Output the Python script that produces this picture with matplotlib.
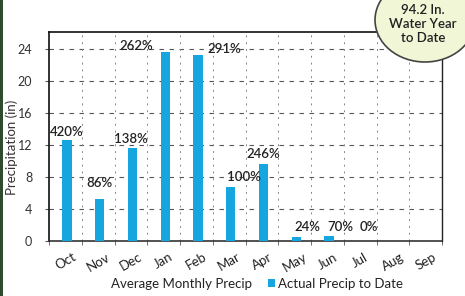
import matplotlib
matplotlib.use("Agg")
import matplotlib.pyplot as plt
from matplotlib.patches import Ellipse, Rectangle, Patch
import numpy as np

months = ["Oct", "Nov", "Dec", "Jan", "Feb", "Mar", "Apr", "May", "Jun", "Jul", "Aug", "Sep"]
actual = [12.6, 5.3, 11.6, 23.6, 23.2, 6.8, 9.6, 0.45, 0.6, 0.0, None, None]
pct_labels = ["420%", "86%", "138%", "262%", "291%", "100%", "246%", "24%", "70%", "0%", None, None]
yticks = [0, 4, 8, 12, 16, 20, 24]
bubble_text = "94.2 In.\nWater Year\nto Date"

# label offsets in pixels (dx, dy) relative to bar top centre
label_offsets = [(0, 2), (0, 10), (-2, 3), (-29, 0), (26, 0), (13, 4), (0, 4), (11, 4), (11, 3), (7, 8)]

plt.rcParams['font.family'] = ['Lato', 'DejaVu Sans']

W, H = 465, 296
fig = plt.figure(figsize=(W / 100, H / 100), dpi=100)
fig.patch.set_facecolor("white")

ax = fig.add_axes([49 / W, 1 - 241 / H, (442 - 49) / W, (241 - 32) / H])
x = np.arange(len(months))
vals = [v if v is not None else 0 for v in actual]
bar_color = "#16a6df"
ax.bar(x + 0.05, vals, width=0.28, color=bar_color, zorder=3)

ax.set_xlim(-0.5, 11.5)
ax.set_ylim(0, 26.1)
ax.set_yticks(yticks)
ax.set_yticklabels([str(t) for t in yticks], fontsize=9, color="#333333")
ax.set_xticks(x)
ax.set_xticklabels(months, rotation=30, fontsize=9.5, color="#222222", ha="center")
ax.tick_params(axis="x", length=0, pad=7)
ax.set_xticks(np.arange(-0.5, 12, 1), minor=True)
ax.tick_params(axis="x", which="minor", length=3, color="#555555")
ax.tick_params(axis="y", length=3, color="#555555", pad=9)

for yv in yticks[1:]:
    ax.axhline(yv, color="#555555", lw=0.8, ls=(0, (4, 5)), zorder=1)
for xv in np.arange(0.5, 11, 1):
    ax.axvline(xv, color="#888888", lw=0.7, ls=(0, (2, 5)), zorder=1)

for sp in ["left", "top"]:
    ax.spines[sp].set_color("#111111")
    ax.spines[sp].set_linewidth(1.2)
ax.spines["bottom"].set_color("#333333")
ax.spines["bottom"].set_linewidth(1.2)
ax.spines["right"].set_color("#222222")
ax.spines["right"].set_linewidth(1.0)

ax.set_ylabel("Precipitation (in)", fontsize=9.5, color="#333333")
ax.yaxis.set_label_coords(-0.079, 0.45)

for i, lab in enumerate(pct_labels):
    if lab is None:
        continue
    dx, dy = label_offsets[i]
    ax.annotate(lab, (x[i] + 0.05, vals[i]), xytext=(dx, dy), textcoords="offset pixels",
                ha="center", va="bottom", fontsize=9.5, fontweight="semibold",
                color="#222222", zorder=5)

handles = [Patch(facecolor="none", edgecolor="none"), Patch(facecolor=bar_color, edgecolor="none")]
fig.legend(handles, ["Average Monthly Precip", "Actual Precip to Date"], loc="center",
           bbox_to_anchor=(252 / W, 1 - 284 / H), ncol=2, frameon=False, fontsize=9.5,
           handlelength=0.55, handleheight=0.55, handletextpad=0.2, columnspacing=1.2,
           labelcolor="#222222")

# overlay in pixel coordinates
ov = fig.add_axes([0, 0, 1, 1], zorder=10)
ov.set_xlim(0, W)
ov.set_ylim(H, 0)
ov.axis("off")
ov.patch.set_alpha(0)
ov.add_patch(Ellipse((425, 20), 100, 84, facecolor="#f1f6d6", edgecolor="#444444", lw=1.2))
ov.text(423, 24, bubble_text, ha="center", va="center", fontsize=9.5, fontweight="semibold",
        color="#222222", linespacing=1.25)
ov.add_patch(Rectangle((0, 0), 3, H, facecolor="#2f4a2c", edgecolor="none"))

fig.savefig("out.png", dpi=100)
